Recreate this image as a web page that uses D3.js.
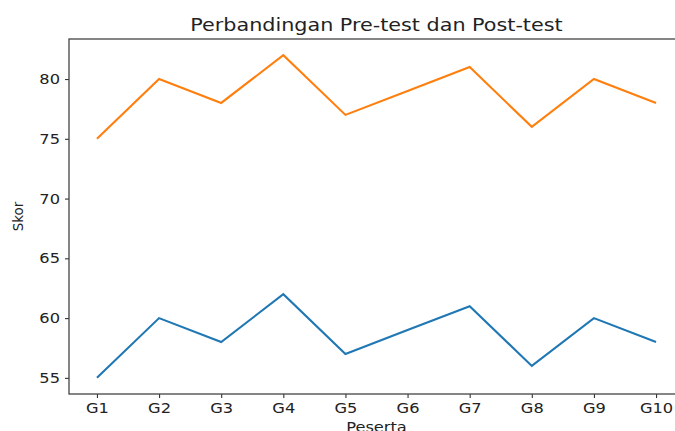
<!DOCTYPE html>
<html lang="id">
<head>
    <meta charset="UTF-8">
    <title>Perbandingan Pre-test dan Post-test</title>
    <style>
        body { margin: 0; background: #fff; }
        text { font-family: "DejaVu Sans", sans-serif; fill: #222; }
    </style>
</head>
<body>
<script src="https://d3js.org/d3.v7.min.js"></script>
<script>
    let peserta = ['G1', 'G2', 'G3', 'G4', 'G5', 'G6', 'G7', 'G8', 'G9', 'G10'];
    let preTest = [55, 60, 58, 62, 57, 59, 61, 56, 60, 58];
    let postTest = [75, 80, 78, 82, 77, 79, 81, 76, 80, 78];
    let yTicks = [55, 60, 65, 70, 75, 80];

    let width = 675;
    let height = 431;
    let padding = { top: 39, right: -9, bottom: 37, left: 69 };

    let svg = d3.select('body')
        .append('svg')
        .attr('width', width)
        .attr('height', height);

    // the picture looks a bit wider than tall, so stretch texts sideways
    let stretch = (sel, k) => sel.each(function () {
        let w = this.getComputedTextLength();
        d3.select(this).attr('textLength', w * k).attr('lengthAdjust', 'spacingAndGlyphs');
    });

    let xScale = d3.scaleLinear()
        .domain([-0.45, peserta.length - 1 + 0.45])
        .range([padding.left, width - padding.right]);

    let yScale = d3.scaleLinear()
        .domain([53.65, 83.35])
        .range([height - padding.bottom, padding.top]);

    // axes
    let xAxis = d3.axisBottom(xScale)
        .tickValues(d3.range(peserta.length))
        .tickFormat(i => peserta[i])
        .tickSize(4)
        .tickPadding(5);
    let yAxis = d3.axisLeft(yScale)
        .tickValues(yTicks)
        .tickSize(4)
        .tickPadding(5);

    let gx = svg.append('g')
        .attr('transform', 'translate(0,' + (height - padding.bottom) + ')')
        .call(xAxis);
    let gy = svg.append('g')
        .attr('transform', 'translate(' + padding.left + ',0)')
        .call(yAxis);
    [gx, gy].forEach(g => {
        g.select('.domain').remove();
        g.selectAll('line').attr('stroke', '#333').attr('stroke-width', 1.1);
        g.selectAll('text').style('font-size', '14.5px').attr('fill', '#222').call(stretch, 1.12);
    });

    // frame
    svg.append('rect')
        .attr('x', padding.left)
        .attr('y', padding.top)
        .attr('width', width - padding.right - padding.left)
        .attr('height', height - padding.bottom - padding.top)
        .attr('fill', 'none')
        .attr('stroke', '#444')
        .attr('stroke-width', 1.3);

    // lines
    let line = d3.line()
        .x((d, i) => xScale(i))
        .y(d => yScale(d));

    svg.append('path')
        .datum(preTest)
        .attr('d', line)
        .attr('fill', 'none')
        .attr('stroke', '#1f77b4')
        .attr('stroke-width', 2.1);
    svg.append('path')
        .datum(postTest)
        .attr('d', line)
        .attr('fill', 'none')
        .attr('stroke', '#ff7f0e')
        .attr('stroke-width', 2.1);

    // labels
    svg.append('text')
        .attr('x', (padding.left + width - padding.right) / 2)
        .attr('y', 31)
        .attr('text-anchor', 'middle')
        .style('font-size', '18px')
        .text('Perbandingan Pre-test dan Post-test')
        .call(stretch, 1.15);

    svg.append('text')
        .attr('x', (padding.left + width - padding.right) / 2)
        .attr('y', 432)
        .attr('text-anchor', 'middle')
        .style('font-size', '14.5px')
        .text('Peserta')
        .call(stretch, 1.12);

    svg.append('text')
        .attr('transform', 'translate(23,' + ((padding.top + height - padding.bottom) / 2) + ') rotate(-90)')
        .attr('text-anchor', 'middle')
        .style('font-size', '13.5px')
        .text('Skor');
</script>
</body>
</html>
